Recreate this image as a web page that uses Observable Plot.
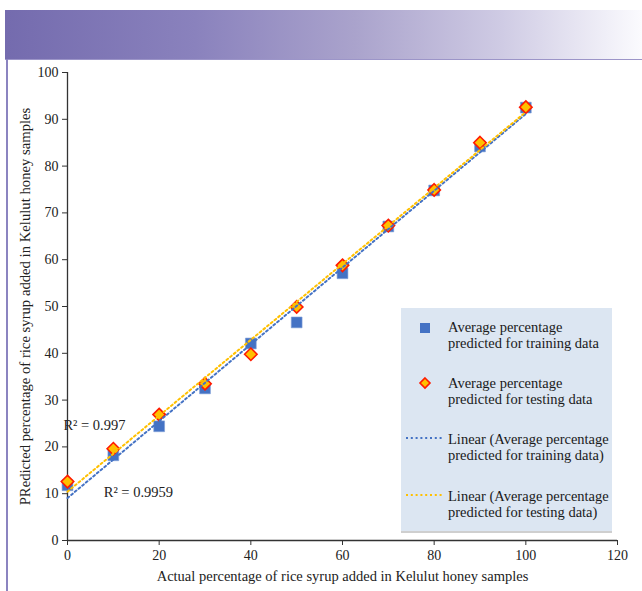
<!DOCTYPE html>
<html>
<head>
<meta charset="utf-8">
<script src="https://cdn.jsdelivr.net/npm/d3@7"></script>
<script src="https://cdn.jsdelivr.net/npm/@observablehq/plot@0.6"></script>
<style>
  html, body { margin: 0; padding: 0; background: #fff; }
  #page { position: relative; width: 642px; height: 591px; overflow: hidden; font-family: "Liberation Serif", "Times New Roman", serif; }
  #banner { position: absolute; left: 5px; top: 10px; width: 637px; height: 49px;
    background: linear-gradient(to right, #746bae 0%, #8a82bd 30%, #aaa3cc 55%, #cfcbe4 78%, #fbfbfe 100%); }
  #topline { position: absolute; left: 5px; top: 59px; width: 637px; height: 1px; background: #9c95c8; }
  #leftline { position: absolute; left: 6px; top: 59px; width: 2px; height: 532px; background: #8b84c0; }
  #chart { position: absolute; left: 0; top: 60px; }
  #legend { position: absolute; left: 401px; top: 308px; width: 211px; height: 223px; background: #dce6f2; border-bottom: 2px solid #cfcfcf; }
  .lg { position: absolute; left: 47px; font-size: 14.5px; line-height: 16px; color: #1a1a1a; white-space: nowrap; }
  .sw { position: absolute; }
</style>
</head>
<body>
<div id="page">
  <div id="banner"></div>
  <div id="topline"></div>
  <div id="leftline"></div>
  <div id="chart"></div>
  <div id="legend"></div>
</div>
<script>
// ---- data ----
const actual = [0, 10, 20, 30, 40, 50, 60, 70, 80, 90, 100];
const trainPred = [11.8, 18.2, 24.4, 32.5, 42.1, 46.6, 57.1, 67.1, 74.8, 84.2, 92.5];
const testPred = [12.6, 19.6, 26.9, 33.5, 39.8, 49.9, 58.8, 67.3, 74.9, 85.0, 92.6];
const xTicks = [0, 20, 40, 60, 80, 100, 120];
const yTicks = [0, 10, 20, 30, 40, 50, 60, 70, 80, 90, 100];
const r2Text = ["R\u00b2 = 0.997", "R\u00b2 = 0.9959"];
const r2X = [-0.9, 7.9];
const r2Y = [24.6, 10.3];
const legendLabels = [
  ["Average percentage", "predicted for training data"],
  ["Average percentage", "predicted for testing data"],
  ["Linear (Average percentage", "predicted for training data)"],
  ["Linear (Average percentage", "predicted for testing data)"]
];
const xTitle = "Actual percentage of rice syrup added in Kelulut honey samples";
const yTitle = "PRedicted percentage of rice syrup added in Kelulut honey samples";

const blue = "#4472c4", gold = "#ffc000", red = "#ff1a00";

const train = actual.map((x, i) => ({x, y: trainPred[i]}));
const test = actual.map((x, i) => ({x, y: testPred[i]}));
const r2 = r2Text.map((t, i) => ({t, x: r2X[i], y: r2Y[i]}));

const font = "Liberation Serif, Times New Roman, serif";

const chart = Plot.plot({
  width: 642,
  height: 531,
  marginLeft: 67,
  marginRight: 25,
  marginTop: 12,
  marginBottom: 51,
  style: {fontFamily: font, fontSize: "14px", color: "#222", background: "transparent"},
  x: {domain: [0, 120]},
  y: {domain: [0, 100]},
  marks: [
    Plot.axisY({ticks: yTicks, tickSize: 5, tickPadding: 4, label: null, fontFamily: font, fontSize: 14, fontVariant: "normal", stroke: "#333", fill: "#222"}),
    Plot.axisY({ticks: [], label: yTitle, labelAnchor: "center", labelArrow: "none", labelOffset: 48, fontFamily: font, fontSize: 14.7, fill: "#222", tickSize: 0}),
    Plot.axisX({ticks: xTicks, tickSize: 5, tickPadding: 5, label: null, fontFamily: font, fontSize: 14, fontVariant: "normal", stroke: "#333", fill: "#222"}),
    Plot.axisX({ticks: [], label: xTitle, labelAnchor: "center", labelArrow: "none", labelOffset: 40, fontFamily: font, fontSize: 14.5, fill: "#222", tickSize: 0}),
    Plot.ruleX([0], {stroke: "#333", strokeWidth: 1.3}),
    Plot.ruleY([0], {stroke: "#333", strokeWidth: 1.3}),
    Plot.dot(train, {x: "x", y: "y", symbol: "square", r: 6.1, fill: blue, stroke: "#7f9fd6", strokeWidth: 0.6}),
    Plot.dot(test, {x: "x", y: "y", symbol: "diamond2", r: 5.6, fill: gold, stroke: red, strokeWidth: 1.6}),
    Plot.linearRegressionY(train, {x: "x", y: "y", ci: 0, stroke: blue, strokeWidth: 2, strokeDasharray: "2 2.8"}),
    Plot.linearRegressionY(test, {x: "x", y: "y", ci: 0, stroke: gold, strokeWidth: 2, strokeDasharray: "2 2.8"}),
    Plot.text(r2, {x: "x", y: "y", text: "t", textAnchor: "start", fill: "#222", fontFamily: font, fontSize: 14.5})
  ]
});
document.getElementById("chart").appendChild(chart);

// ---- legend ----
const legend = document.getElementById("legend");
const rowTops = [11, 67, 123, 180];
const swatches = [
  `<svg class="sw" style="left:17px;top:13px" width="14" height="14"><rect x="2" y="2" width="10" height="10" fill="${blue}"/></svg>`,
  `<svg class="sw" style="left:17px;top:68px" width="14" height="14"><path d="M7,2 L12,7 L7,12 L2,7Z" fill="${gold}" stroke="${red}" stroke-width="1.6"/></svg>`,
  `<svg class="sw" style="left:4px;top:126px" width="40" height="8"><line x1="1" x2="39" y1="4" y2="4" stroke="${blue}" stroke-width="2" stroke-dasharray="2 2.8"/></svg>`,
  `<svg class="sw" style="left:4px;top:183px" width="40" height="8"><line x1="1" x2="39" y1="4" y2="4" stroke="${gold}" stroke-width="2" stroke-dasharray="2 2.8"/></svg>`
];
legendLabels.forEach((lines, i) => {
  legend.insertAdjacentHTML("beforeend", swatches[i]);
  const d = document.createElement("div");
  d.className = "lg";
  d.style.top = rowTops[i] + "px";
  d.innerHTML = lines.join("<br>");
  legend.appendChild(d);
});
</script>
</body>
</html>
